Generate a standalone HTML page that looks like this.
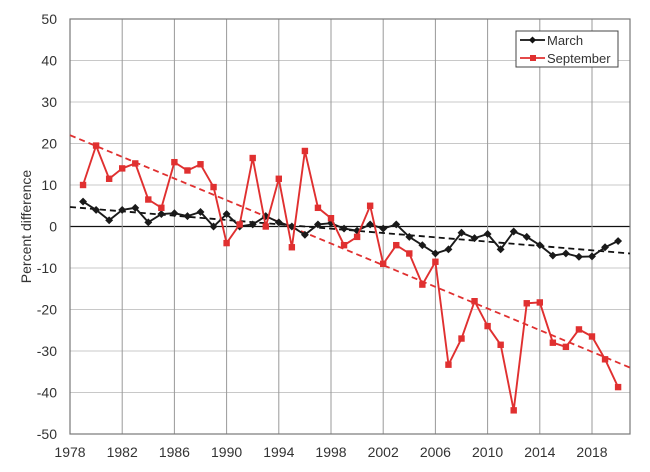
<!DOCTYPE html>
<html><head><meta charset="utf-8"><style>
body{margin:0;background:#fff;}
svg text{font-family:"Liberation Sans",sans-serif;fill:#333;}
</style></head><body>
<svg id="s" width="650" height="467" xmlns="http://www.w3.org/2000/svg"></svg>
<script>
const s=document.getElementById('s');
const L=70,R=630,T=19,B=434;
const X=y=>L+(y-1978)*13.05, Y=v=>226.5-v*4.15;
let h='';
for(let v=-50;v<=50;v+=10){const y=Y(v);
 h+=`<line x1="${L}" x2="${R}" y1="${y}" y2="${y}" stroke="${v==0?'#111':'#c8c8c8'}" stroke-width="${v==0?1.3:1}"/>`;
 h+=`<text x="57" y="${y+5}" font-size="14" text-anchor="end">${v}</text>`;}
for(let yr=1978;yr<=2020;yr+=4){const x=X(yr);
 if(yr>1978)h+=`<line x1="${x}" x2="${x}" y1="${T}" y2="${B}" stroke="#999" stroke-width="1"/>`;
 h+=`<text x="${x}" y="457" font-size="14" text-anchor="middle">${yr}</text>`;}
h+=`<rect x="${L}" y="${T}" width="${R-L}" height="${B-T}" fill="none" stroke="#777" stroke-width="1.2"/>`;
h+=`<text transform="translate(31,${(T+B)/2}) rotate(-90)" font-size="14" text-anchor="middle">Percent difference</text>`;
const sep=[10,19.5,11.5,14,15.2,6.5,4.5,15.5,13.5,15,9.5,-4,0.5,16.5,0,11.5,-5,18.2,4.5,2,-4.5,-2.5,5,-9,-4.5,-6.5,-14,-8.5,-33.3,-27,-18,-24,-28.5,-44.3,-18.5,-18.3,-28,-29,-24.8,-26.5,-32,-38.7];
const mar=[6,4,1.5,4,4.5,1,3,3.2,2.5,3.5,0,3,0,0.5,2.5,1,0,-2,0.5,0.8,-0.5,-1,0.5,-0.5,0.5,-2.5,-4.5,-6.5,-5.5,-1.5,-2.8,-1.8,-5.5,-1.2,-2.5,-4.5,-7,-6.5,-7.3,-7.2,-5,-3.5];
h+=`<line x1="${L}" y1="${Y(22)}" x2="${R}" y2="${Y(-34)}" stroke="#e03030" stroke-width="1.8" stroke-dasharray="6,4"/>`;
h+=`<line x1="${L}" y1="${Y(4.7)}" x2="${R}" y2="${Y(-6.5)}" stroke="#111" stroke-width="1.8" stroke-dasharray="6,4"/>`;
function ser(d,c,m){let p=d.map((v,i)=>X(1979+i).toFixed(1)+','+Y(v).toFixed(1)).join(' ');
 h+=`<polyline points="${p}" fill="none" stroke="${c}" stroke-width="1.9"/>`;
 d.forEach((v,i)=>{const x=X(1979+i),y=Y(v);
  h+= m=='s'?`<rect x="${x-3.2}" y="${y-3.2}" width="6.4" height="6.4" fill="${c}"/>`:`<rect x="${x-2.8}" y="${y-2.8}" width="5.6" height="5.6" fill="${c}" transform="rotate(45 ${x} ${y})"/>`;});}
ser(mar,'#1a1a1a','d');ser(sep,'#e03030','s');
h+=`<rect x="516" y="31" width="102" height="36" fill="#fff" stroke="#444"/>`;
h+=`<line x1="520" x2="545" y1="40" y2="40" stroke="#111" stroke-width="1.8"/><rect x="530" y="37.5" width="5" height="5" fill="#111" transform="rotate(45 532.5 40)"/>`;
h+=`<text x="547" y="45" font-size="13">March</text>`;
h+=`<line x1="520" x2="545" y1="58" y2="58" stroke="#e03030" stroke-width="1.8"/><rect x="530" y="55" width="6" height="6" fill="#e03030"/>`;
h+=`<text x="547" y="63" font-size="13">September</text>`;
s.innerHTML=h;
</script>
</body></html>
